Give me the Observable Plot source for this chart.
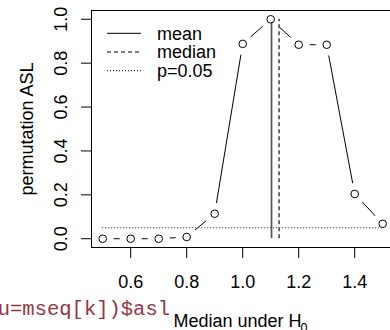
<!DOCTYPE html>
<html>
<head>
<meta charset="utf-8">
<script src="https://cdn.jsdelivr.net/npm/d3@7"></script>
<script src="https://cdn.jsdelivr.net/npm/@observablehq/plot@0.6"></script>
<style>
  html, body { margin: 0; padding: 0; background: white; overflow: hidden; }
  #chart { width: 390px; height: 330px; }
</style>
</head>
<body>
<div id="chart"></div>
<script>
// ---- data ----
const mseq = [0.5, 0.6, 0.7, 0.8, 0.9, 1.0, 1.1, 1.2, 1.3, 1.4, 1.5];
const asl  = [0.0, 0.0, 0.0, 0.008, 0.114, 0.888, 1.0, 0.884, 0.884, 0.204, 0.068];
const meanValue = 1.103;
const medianValue = 1.13;
const pThreshold = 0.05;
const xTicks = [0.6, 0.8, 1.0, 1.2, 1.4];
const yTicks = [0.0, 0.2, 0.4, 0.6, 0.8, 1.0];
const legendLabels = ["mean", "median", "p=0.05"];
const legendDashes = [null, "4,3", "1,2"];
const xLabelMain = "Median under H";
const xLabelSub = "0";
const yLabel = "permutation ASL";
const codeText = "u=mseq[k])$asl";

const points = mseq.map((m, i) => ({m, asl: asl[i]}));

// R-style 4% axis extension
const xPad = (d3.max(mseq) - d3.min(mseq)) * 0.04;
const yPad = (d3.max(asl) - d3.min(asl)) * 0.04;
const xDomain = [d3.min(mseq) - xPad, d3.max(mseq) + xPad];
const yDomain = [d3.min(asl) - yPad, d3.max(asl) + yPad];

const font = "'Liberation Sans', Arial, Helvetica, sans-serif";

const chart = Plot.plot({
  width: 390,
  height: 330,
  marginLeft: 91,
  marginRight: 0,
  marginTop: 10,
  marginBottom: 83,
  x: {domain: xDomain, range: [91, 393.4]},
  y: {domain: yDomain},
  style: {fontFamily: font, fontSize: "18px", background: "white", color: "black", overflow: "visible"},
  marks: [
    Plot.line(points, {x: "m", y: "asl", stroke: "black", strokeWidth: 1}),
    // gap around points (type = "b")
    Plot.dot(points, {x: "m", y: "asl", r: 11, fill: "white", stroke: "none"}),
    Plot.ruleY([pThreshold], {x1: mseq[0], x2: mseq[mseq.length - 1], stroke: "#222", strokeWidth: 1, strokeDasharray: "1,2"}),
    Plot.ruleX([meanValue], {y1: 0, y2: 1, stroke: "#555", strokeWidth: 1.7}),
    Plot.ruleX([medianValue], {y1: 0, y2: 1, stroke: "#555", strokeWidth: 1.7, strokeDasharray: "4,3"}),
    Plot.dot(points, {x: "m", y: "asl", r: 3.8, fill: "white", stroke: "black", strokeWidth: 1}),
    // frame (right edge lies outside the picture)
    Plot.ruleY([yDomain[0], yDomain[1]], {stroke: "black", strokeWidth: 1}),
    Plot.ruleX([xDomain[0]], {stroke: "black", strokeWidth: 1}),
    Plot.axisX({ticks: xTicks, tickSize: 11, tickPadding: 16.5, label: null, tickFormat: d => d.toFixed(1), fontSize: 18}),
    Plot.axisY({ticks: yTicks, tickSize: 10, label: null, tickFormat: () => ""}),
    Plot.text(yTicks, {y: d => d, text: d => d.toFixed(1), frameAnchor: "left", textAnchor: "middle", lineAnchor: "middle", dx: -30, rotate: -90, fontSize: 18, fill: "black"}),
    Plot.text([yLabel], {frameAnchor: "left", textAnchor: "middle", lineAnchor: "middle", dx: -64.5, rotate: -90, fontSize: 18, fill: "black"}),
    Plot.text([xLabelMain], {frameAnchor: "bottom-left", textAnchor: "start", lineAnchor: "middle", dx: 82, dy: 74, fontSize: 18, fill: "black"}),
    Plot.text([xLabelSub], {frameAnchor: "bottom-left", textAnchor: "start", lineAnchor: "middle", dx: 209, dy: 80, fontSize: 12.6, fill: "black"}),
    Plot.text([codeText], {frameAnchor: "bottom-left", textAnchor: "end", lineAnchor: "middle", dx: 78.5, dy: 61.4, fontSize: 20.5, fontFamily: "'Liberation Mono', 'Courier New', monospace", fill: "#963544"})
  ]
});

// legend (bty = "n", top-left)
const svg = d3.select(chart);
const lg = svg.append("g").attr("class", "legend").attr("text-anchor", "start");
legendLabels.forEach((lab, i) => {
  const yy = 33.3 + i * 18.7;
  const ln = lg.append("line")
    .attr("x1", 107).attr("x2", 141)
    .attr("y1", yy).attr("y2", yy)
    .attr("stroke", "black").attr("stroke-width", 1);
  if (legendDashes[i]) ln.attr("stroke-dasharray", legendDashes[i]);
  lg.append("text")
    .attr("x", 157).attr("y", yy).attr("dy", "0.35em")
    .attr("text-anchor", "start")
    .attr("font-family", font).attr("font-size", 18)
    .attr("fill", "black")
    .text(lab);
});

document.getElementById("chart").appendChild(chart);
</script>
</body>
</html>
